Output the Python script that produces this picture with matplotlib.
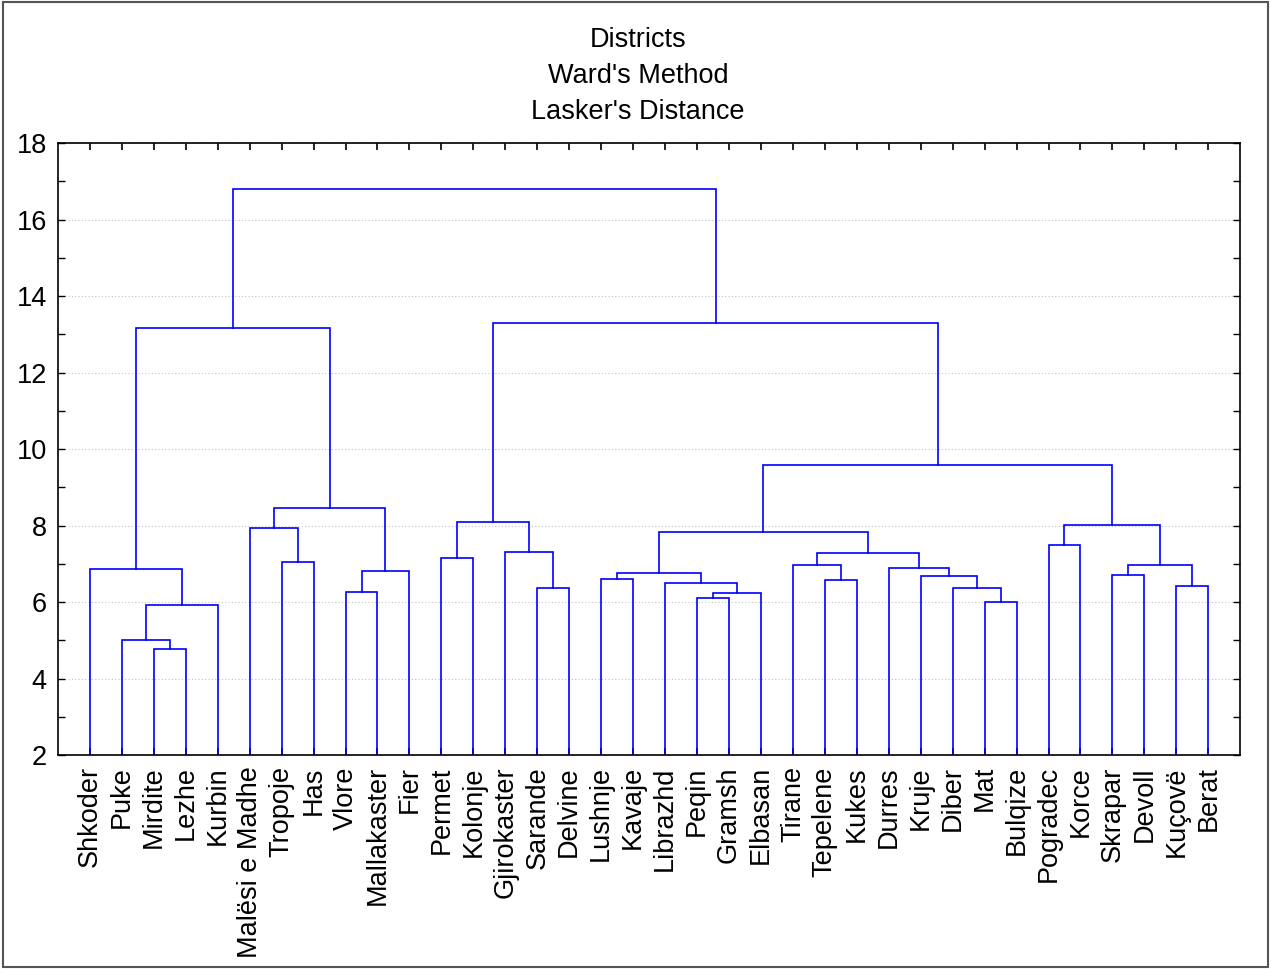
import matplotlib.pyplot as plt
from matplotlib.patches import Rectangle

plt.rcParams["font.family"] = ["Liberation Sans", "DejaVu Sans"]

districts = [
    "Shkoder", "Puke", "Mirdite", "Lezhe", "Kurbin", "Malësi e Madhe",
    "Tropoje", "Has", "Vlore", "Mallakaster", "Fier", "Permet", "Kolonje",
    "Gjirokaster", "Sarande", "Delvine", "Lushnje", "Kavaje", "Librazhd",
    "Peqin", "Gramsh", "Elbasan", "Tirane", "Tepelene", "Kukes", "Durres",
    "Kruje", "Diber", "Mat", "Bulqize", "Pogradec", "Korce", "Skrapar",
    "Devoll", "Kuçovë", "Berat",
]

# linkage steps: ids < 36 are districts, id 36 + k is the k-th merge below
merge_left = [2, 1, 37, 0, 6, 5, 8, 42, 41, 39,
              11, 14, 13, 46, 16, 19, 51, 18, 50, 23,
              22, 28, 27, 26, 25, 56, 54, 30, 32, 34,
              64, 63, 62, 49, 45]
merge_right = [3, 36, 4, 38, 7, 40, 9, 10, 43, 44,
               12, 15, 47, 48, 17, 20, 21, 52, 53, 24,
               55, 29, 57, 58, 59, 60, 61, 31, 33, 35,
               65, 66, 67, 68, 69]
merge_height = [4.77, 5.01, 5.92, 6.86, 7.05, 7.93, 6.26, 6.81, 8.46, 13.16,
                7.15, 6.37, 7.31, 8.09, 6.60, 6.10, 6.24, 6.50, 6.76, 6.58,
                6.97, 6.00, 6.37, 6.68, 6.89, 7.28, 7.83, 7.49, 6.71, 6.42,
                6.97, 8.01, 9.58, 13.29, 16.80]

title_lines = ["Districts", "Ward's Method", "Lasker's Distance"]

fig = plt.figure(figsize=(12.71, 9.69), dpi=100)
ax = fig.add_axes([0.0456, 0.2208, 0.9302, 0.6316])

# leaves sit on the bottom of the axis; each merge draws a U between children
n = len(districts)
xpos = {i: i + 1 for i in range(n)}
ypos = {i: 2.0 for i in range(n)}
for k, (a, b, h) in enumerate(zip(merge_left, merge_right, merge_height)):
    ax.plot([xpos[a], xpos[a], xpos[b], xpos[b]], [ypos[a], h, h, ypos[b]],
            color="#0000ff", lw=1.2, solid_joinstyle="miter")
    xpos[n + k] = (xpos[a] + xpos[b]) / 2
    ypos[n + k] = h

ax.set_xlim(0, n + 1)
ax.set_ylim(2, 18)
ax.set_yticks(range(2, 19, 2))
ax.set_yticks(range(3, 18, 2), minor=True)
ax.set_xticks(range(1, n + 1))
ax.set_xticklabels(districts, rotation=90, fontsize=19.5)
ax.tick_params(axis="y", which="both", direction="in", length=5, width=1,
               right=True, labelsize=19.5, pad=8)
ax.tick_params(axis="x", direction="in", length=5, width=1.2, top=True, pad=8)
ax.grid(axis="y", which="major", color="#c0c0c0", linestyle=(0, (1, 2)), lw=0.8)
ax.set_axisbelow(True)
for spine in ax.spines.values():
    spine.set_linewidth(1.2)

for i, line in enumerate(title_lines):
    fig.text(0.502, 1 - (40 + 36 * i) / 969, line, ha="center", va="center",
             fontsize=19.5)

fig.patches.append(Rectangle((0.002, 0.002), 0.996, 0.996, transform=fig.transFigure,
                             fill=False, edgecolor="#555555", lw=1.5))

fig.savefig("out.png", dpi=100)
